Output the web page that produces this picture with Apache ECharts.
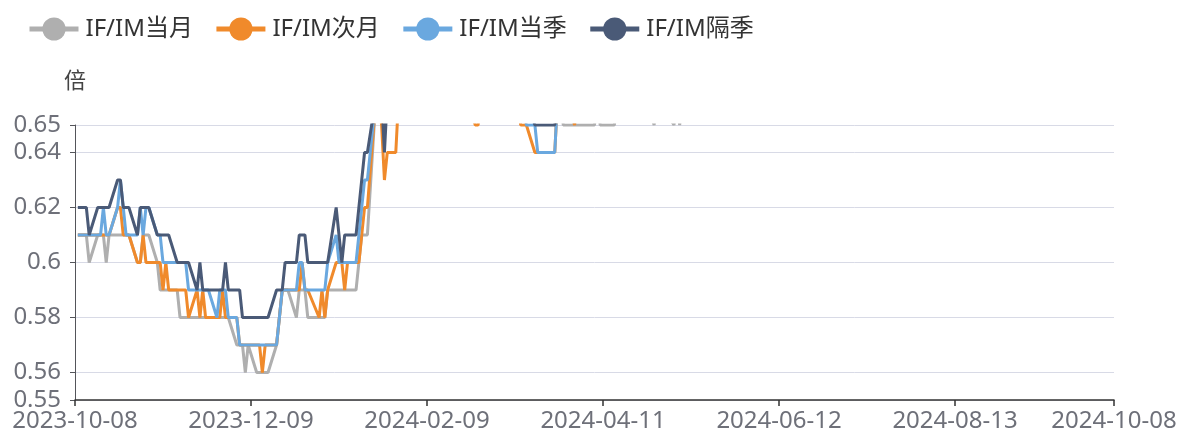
<!DOCTYPE html>
<html>
<head>
<meta charset="utf-8">
<script src="https://cdn.jsdelivr.net/npm/echarts@6/dist/echarts.min.js"></script>
<style>
    html, body { margin: 0; padding: 0; background: #fff; }
    #chart { width: 1181px; height: 441px; }
</style>
</head>
<body>
<div id="chart"></div>
<script>
// trading days, one line per month
const dates = [
    '2023-10-09','2023-10-10','2023-10-11','2023-10-12','2023-10-13','2023-10-16','2023-10-17','2023-10-18','2023-10-19','2023-10-20','2023-10-23','2023-10-24','2023-10-25','2023-10-26','2023-10-27','2023-10-30','2023-10-31',
    '2023-11-01','2023-11-02','2023-11-03','2023-11-06','2023-11-07','2023-11-08','2023-11-09','2023-11-10','2023-11-13','2023-11-14','2023-11-15','2023-11-16','2023-11-17','2023-11-20','2023-11-21','2023-11-22','2023-11-23','2023-11-24','2023-11-27','2023-11-28','2023-11-29','2023-11-30',
    '2023-12-01','2023-12-04','2023-12-05','2023-12-06','2023-12-07','2023-12-08','2023-12-11','2023-12-12','2023-12-13','2023-12-14','2023-12-15','2023-12-18','2023-12-19','2023-12-20','2023-12-21','2023-12-22','2023-12-25','2023-12-26','2023-12-27','2023-12-28','2023-12-29',
    '2024-01-02','2024-01-03','2024-01-04','2024-01-05','2024-01-08','2024-01-09','2024-01-10','2024-01-11','2024-01-12','2024-01-15','2024-01-16','2024-01-17','2024-01-18','2024-01-19','2024-01-22','2024-01-23','2024-01-24','2024-01-25','2024-01-26','2024-01-29','2024-01-30','2024-01-31',
    '2024-02-01','2024-02-02','2024-02-05','2024-02-06','2024-02-07','2024-02-08','2024-02-19','2024-02-20','2024-02-21','2024-02-22','2024-02-23','2024-02-26','2024-02-27','2024-02-28','2024-02-29',
    '2024-03-01','2024-03-04','2024-03-05','2024-03-06','2024-03-07','2024-03-08','2024-03-11','2024-03-12','2024-03-13','2024-03-14','2024-03-15','2024-03-18','2024-03-19','2024-03-20','2024-03-21','2024-03-22','2024-03-25','2024-03-26','2024-03-27','2024-03-28','2024-03-29',
    '2024-04-01','2024-04-02','2024-04-03','2024-04-08','2024-04-09','2024-04-10','2024-04-11','2024-04-12','2024-04-15','2024-04-16','2024-04-17','2024-04-18','2024-04-19','2024-04-22','2024-04-23','2024-04-24','2024-04-25','2024-04-26','2024-04-29','2024-04-30',
    '2024-05-06','2024-05-07','2024-05-08','2024-05-09','2024-05-10'
];

const ifimMonth = [
    0.61,0.61,0.61,0.61,0.60,0.61,0.61,0.61,0.60,0.61,0.61,0.61,0.61,0.61,0.61,0.60,0.60,
    0.61,0.61,0.61,0.60,0.59,0.59,0.59,0.59,0.59,0.58,0.58,0.58,0.58,0.58,0.58,0.58,0.58,0.58,0.58,0.58,0.58,0.58,
    0.58,0.57,0.57,0.57,0.56,0.57,0.56,0.56,0.56,0.56,0.56,0.57,0.58,0.59,0.59,0.59,0.58,0.59,0.59,0.59,0.58,
    0.58,0.58,0.58,0.59,0.59,0.59,0.59,0.59,0.59,0.59,0.60,0.61,0.61,0.61,0.66,0.66,0.66,0.66,0.66,0.66,0.67,0.67,
    0.67,0.67,0.68,0.69,0.70,0.70,0.68,0.68,0.67,0.67,0.67,0.66,0.66,0.67,0.67,
    0.67,0.67,0.67,0.66,0.66,0.66,0.66,0.66,0.66,0.66,0.66,0.66,0.66,0.66,0.66,0.66,0.66,0.66,0.66,0.65,0.65,
    0.65,0.65,0.65,0.65,0.66,0.65,0.65,0.65,0.65,0.66,0.67,0.67,0.66,0.66,0.67,0.67,0.66,0.66,0.65,0.66,
    0.65,0.66,0.65,0.66,0.66
];
const ifimNext = [
    0.61,0.61,0.61,0.61,0.61,0.61,0.61,0.61,0.61,0.61,0.62,0.62,0.61,0.61,0.61,0.60,0.60,
    0.61,0.60,0.60,0.60,0.60,0.59,0.60,0.59,0.59,0.59,0.59,0.59,0.58,0.59,0.58,0.59,0.58,0.58,0.58,0.58,0.59,0.58,
    0.58,0.58,0.57,0.57,0.57,0.57,0.57,0.57,0.56,0.57,0.57,0.57,0.58,0.59,0.59,0.59,0.59,0.59,0.60,0.59,0.59,
    0.58,0.59,0.58,0.59,0.60,0.60,0.60,0.59,0.60,0.60,0.60,0.61,0.62,0.62,0.66,0.66,0.65,0.63,0.64,0.64,0.66,0.67,
    0.66,0.67,0.68,0.69,0.70,0.69,0.68,0.67,0.67,0.66,0.66,0.65,0.65,0.66,0.66,
    0.66,0.67,0.67,0.66,0.66,0.66,0.66,0.66,0.65,0.65,0.65,0.64,0.64,0.64,0.64,0.64,0.64,0.66,0.66,0.66,0.66,
    0.65,0.66,0.66,0.66,0.67,0.66,0.66,0.66,0.67,0.67,0.68,0.68,0.67,0.67,0.68,0.68,0.67,0.67,0.66,0.67,
    0.66,0.67,0.66,0.67,0.67
];
const ifimQuarter = [
    0.61,0.61,0.61,0.61,0.61,0.61,0.61,0.62,0.61,0.61,0.62,0.63,0.62,0.61,0.61,0.61,0.62,
    0.61,0.62,0.62,0.61,0.61,0.60,0.60,0.60,0.60,0.60,0.60,0.60,0.59,0.59,0.59,0.59,0.59,0.59,0.58,0.59,0.59,0.59,
    0.58,0.58,0.57,0.57,0.57,0.57,0.57,0.57,0.57,0.57,0.57,0.57,0.58,0.59,0.59,0.59,0.59,0.60,0.60,0.59,0.59,
    0.59,0.59,0.59,0.60,0.61,0.60,0.60,0.60,0.60,0.60,0.61,0.62,0.63,0.63,0.66,0.67,0.67,0.66,0.66,0.66,0.67,0.68,
    0.68,0.68,0.69,0.70,0.70,0.70,0.69,0.68,0.68,0.67,0.67,0.67,0.66,0.67,0.67,
    0.67,0.67,0.67,0.67,0.66,0.66,0.66,0.66,0.66,0.66,0.65,0.65,0.64,0.64,0.64,0.64,0.64,0.66,0.66,0.66,0.66,
    0.66,0.66,0.66,0.66,0.67,0.67,0.66,0.67,0.67,0.68,0.68,0.68,0.67,0.67,0.68,0.68,0.67,0.67,0.67,0.67,
    0.67,0.67,0.67,0.68,0.68
];
const ifimNextQuarter = [
    0.62,0.62,0.62,0.62,0.61,0.62,0.62,0.62,0.62,0.62,0.63,0.63,0.62,0.62,0.62,0.61,0.62,
    0.62,0.62,0.62,0.61,0.61,0.61,0.61,0.61,0.60,0.60,0.60,0.60,0.60,0.59,0.60,0.59,0.59,0.59,0.59,0.59,0.59,0.60,
    0.59,0.59,0.59,0.58,0.58,0.58,0.58,0.58,0.58,0.58,0.58,0.59,0.59,0.59,0.60,0.60,0.60,0.61,0.61,0.61,0.60,
    0.60,0.60,0.60,0.60,0.62,0.61,0.60,0.61,0.61,0.61,0.62,0.63,0.64,0.64,0.66,0.66,0.66,0.64,0.66,0.66,0.67,0.68,
    0.68,0.69,0.70,0.71,0.71,0.70,0.69,0.69,0.68,0.68,0.68,0.67,0.67,0.68,0.68,
    0.68,0.68,0.68,0.67,0.67,0.67,0.67,0.67,0.67,0.66,0.66,0.65,0.65,0.65,0.65,0.65,0.65,0.66,0.67,0.67,0.67,
    0.67,0.67,0.67,0.67,0.68,0.68,0.67,0.68,0.68,0.69,0.69,0.69,0.68,0.68,0.69,0.69,0.68,0.68,0.68,0.68,
    0.68,0.68,0.68,0.69,0.69
];

const seriesNames = ['IF/IM当月', 'IF/IM次月', 'IF/IM当季', 'IF/IM隔季'];
const seriesColors = ['#afafaf', '#f08a2b', '#6aa8df', '#4a5a77'];
const xTickLabels = ['2023-10-08', '2023-12-09', '2024-02-09', '2024-04-11', '2024-06-12', '2024-08-13', '2024-10-08'];
const yMin = 0.55;
const yMax = 0.65;

function toTime(s) {
    const p = s.split('-');
    return Date.UTC(+p[0], +p[1] - 1, +p[2]);
}
function pad(n) {
    return n < 10 ? '0' + n : '' + n;
}
function fmtDate(v) {
    const d = new Date(v);
    return d.getUTCFullYear() + '-' + pad(d.getUTCMonth() + 1) + '-' + pad(d.getUTCDate());
}

const xTicks = xTickLabels.map(toTime);
const valueLists = [ifimMonth, ifimNext, ifimQuarter, ifimNextQuarter];
const font = "'Noto Sans', 'Noto Sans CJK SC', sans-serif";

let myChart = echarts.init(document.getElementById('chart'));
let option = {
    animation: false,
    textStyle: { fontFamily: font },
    legend: {
        left: 22,
        top: 12,
        itemWidth: 49,
        itemHeight: 29,
        itemGap: 21,
        lineStyle: { width: 5 },
        textStyle: { fontSize: 24, color: '#333', fontFamily: font, padding: [0, 0, 0, 2] },
        data: seriesNames
    },
    grid: { left: 75, right: 67, top: 125, bottom: 41 },
    xAxis: {
        type: 'value',
        min: xTicks[0],
        max: xTicks[xTicks.length - 1],
        splitLine: { show: false },
        axisLine: { lineStyle: { color: '#333', width: 1.5 } },
        axisTick: { customValues: xTicks, length: 6, lineStyle: { color: '#333', width: 1.5 } },
        axisLabel: {
            customValues: xTicks,
            formatter: fmtDate,
            fontSize: 24,
            color: '#6E7079',
            fontFamily: font,
            margin: 9
        }
    },
    yAxis: {
        type: 'value',
        min: yMin,
        max: yMax,
        name: '倍',
        nameGap: 32,
        nameTextStyle: { fontSize: 22, color: '#444', fontFamily: font },
        axisLabel: { fontSize: 24, color: '#6E7079', fontFamily: font, margin: 14 },
        splitLine: { lineStyle: { color: '#d8dae6' } }
    },
    series: seriesNames.map(function (name, k) {
        return {
            name: name,
            type: 'line',
            symbol: 'circle',
            showSymbol: false,
            color: seriesColors[k],
            lineStyle: { width: 3 },
            data: dates.map(function (d, i) {
                return [toTime(d), valueLists[k][i]];
            })
        };
    })
};

option && myChart.setOption(option);
</script>
</body>
</html>
